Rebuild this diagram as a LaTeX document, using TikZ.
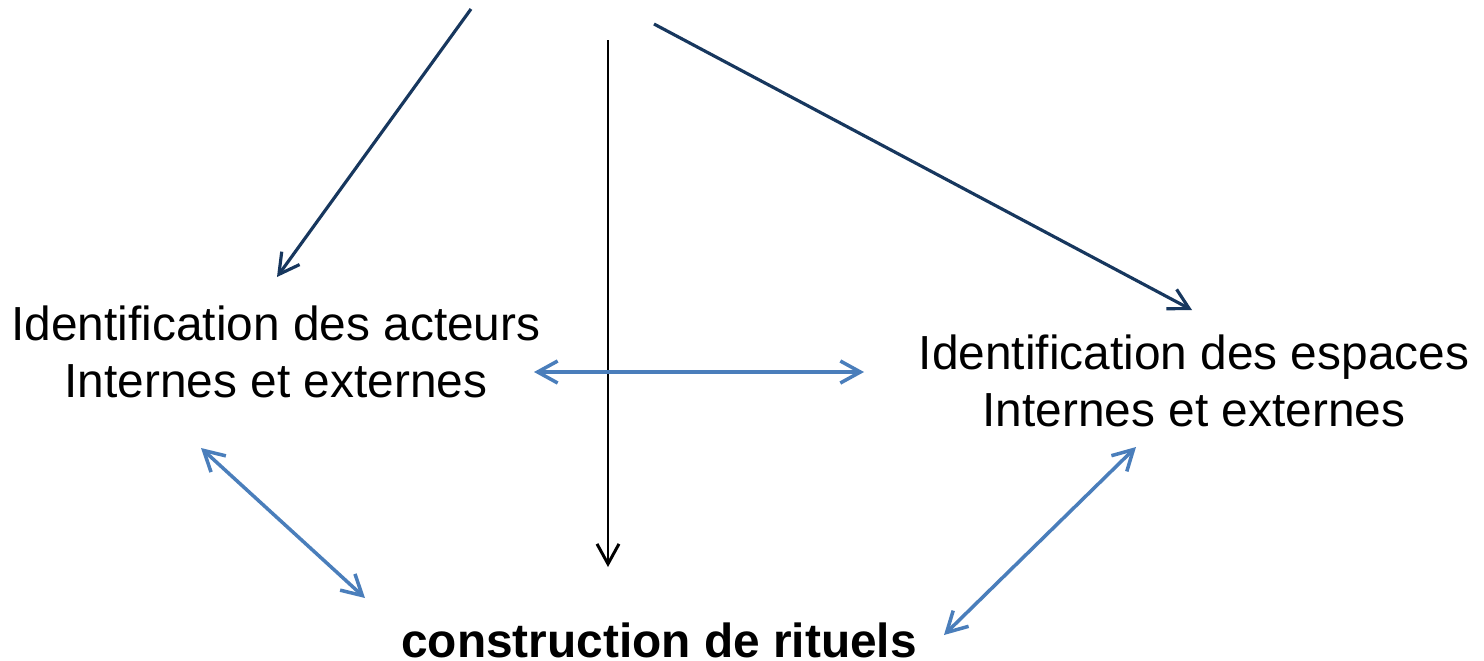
\documentclass[tikz,border=0pt]{standalone}
\usepackage{fontspec}
\setmainfont{Liberation Sans}
\usetikzlibrary{arrows.meta}
\definecolor{navy}{HTML}{17375E}
\definecolor{lblue}{HTML}{4A7EBB}
\begin{document}
\begin{tikzpicture}[x=0.01cm,y=-0.01cm,
  lbl/.style={align=center,inner sep=0pt,font=\fontsize{13.6pt}{16.2pt}\selectfont},
  topline/.style={draw=navy,line width=0.9pt,-{Straight Barb[length=2mm,width=2.2mm]}},
  midline/.style={draw=black,line width=0.85pt,-{Straight Barb[length=2mm,width=2.2mm]}},
  dbl/.style={draw=lblue,line width=1pt,{Straight Barb[length=2mm,width=2.2mm]}-{Straight Barb[length=2mm,width=2.2mm]}}]
\useasboundingbox (0,0) rectangle (1484,660);
\node[lbl] (act) at (276,352) {Identification des acteurs\\Internes et externes};
\node[lbl] (esp) at (1194,381) {Identification des espaces\\Internes et externes};
\node[lbl,font=\fontsize{13.6pt}{16.2pt}\selectfont\bfseries] (rit) at (659,640) {construction de rituels};
\coordinate (s1) at (471,9);
\coordinate (e1) at (277,277);
\coordinate (s2) at (608,40);
\coordinate (e2) at (608,567);
\coordinate (s3) at (654,24);
\coordinate (e3) at (1192,310);
\coordinate (h1) at (534,372);
\coordinate (h2) at (864,372);
\coordinate (l1) at (201,448);
\coordinate (l2) at (365,598);
\coordinate (r1) at (1136,447);
\coordinate (r2) at (944,635);
\draw[topline] (s1) -- (e1);
\draw[midline] (s2) -- (e2);
\draw[topline] (s3) -- (e3);
\draw[dbl] (h1) -- (h2);
\draw[dbl] (l1) -- (l2);
\draw[dbl] (r1) -- (r2);
\end{tikzpicture}
\end{document}
